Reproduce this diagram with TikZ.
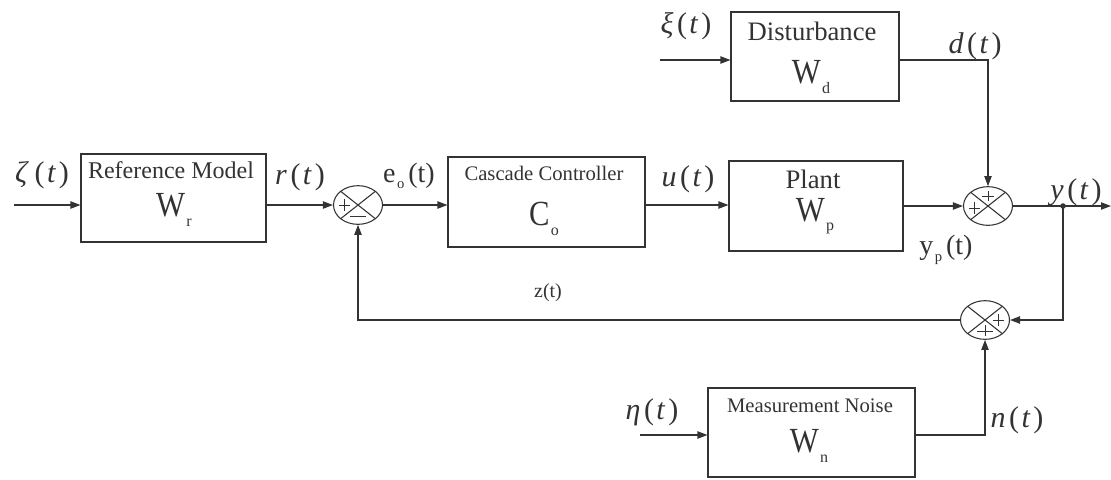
\documentclass[tikz,border=0pt]{standalone}
\usepackage{fontspec}
\setmainfont{Liberation Serif}
\usetikzlibrary{arrows.meta,shapes.geometric,calc}
\definecolor{ink}{HTML}{333333}
\newcommand{\sig}[2]{\textit{#1}\kern.12em(\kern.08em\textit{#2}\kern.1em)}
\newcommand{\subw}[2]{\scalebox{1}[1.15]{#1}\kern1pt\raisebox{-7pt}{\fontsize{12}{12}\selectfont #2}}
\begin{document}
\begin{tikzpicture}[x=0.75pt,y=-0.75pt,
  ink line/.style={draw=ink,line width=0.8pt},
  blk/.style={ink line,rectangle,inner sep=0pt},
  sumj/.style={ink line,ellipse,inner sep=0pt,minimum width=36.75pt,minimum height=29pt,
    path picture={\draw[ink,line width=0.8pt]
      (path picture bounding box.north west) -- (path picture bounding box.south east)
      (path picture bounding box.north east) -- (path picture bounding box.south west);}},
  arr/.style={ink line,-{Triangle[length=7.5pt,width=5.5pt]}},
  wire/.style={ink line},
  lbl/.style={text=ink,inner sep=0pt,font=\fontsize{22.5}{25}\selectfont},
  ttl/.style={text=ink,inner sep=0pt},
  wlbl/.style={text=ink,inner sep=0pt,font=\fontsize{23}{25}\selectfont}
]
\useasboundingbox (0,0) rectangle (1111,479);

% blocks
\node[blk,minimum width=138.75pt,minimum height=66pt] (ref) at (173.5,198) {};
\node[blk,minimum width=147.75pt,minimum height=67.5pt] (cas) at (546.5,202) {};
\node[blk,minimum width=130.5pt,minimum height=67.5pt] (plant) at (816,206) {};
\node[blk,minimum width=126pt,minimum height=66.75pt] (dist) at (815,56.5) {};
\node[blk,minimum width=155.25pt,minimum height=66.75pt] (mn) at (811.5,432.5) {};

% block texts
\node[ttl,font=\fontsize{18}{20}\selectfont] (refT) at (171,170) {Reference Model};
\node[wlbl] (refW) at (174,210) {\subw{W}{r}};
\node[ttl,font=\fontsize{15.5}{18}\selectfont] (casT) at (544,173) {Cascade Controller};
\node[wlbl] (casW) at (544,219) {\subw{C}{o}};
\node[ttl,font=\fontsize{20}{22}\selectfont] (plantT) at (813,179) {Plant};
\node[wlbl] (plantW) at (815,216) {\subw{W}{p}};
\node[ttl,font=\fontsize{20}{22}\selectfont] (distT) at (812,31) {Disturbance};
\node[wlbl] (distW) at (811,77) {\subw{W}{d}};
\node[ttl,font=\fontsize{15.5}{18}\selectfont] (mnT) at (810,406) {Measurement Noise};
\node[wlbl] (mnW) at (809,446) {\subw{W}{n}};

% summing junctions
\node[sumj] (s1) at (358,205) {};
\node[sumj] (s2) at (988,206) {};
\node[sumj] (s3) at (985,320) {};

% signs
\draw[wire,line width=0.6pt] ($(s1)+(-19,0)$) -- ++(11,0) ($(s1)+(-13.5,-6)$) -- ++(0,12);
\draw[wire,line width=0.6pt] ($(s1)+(-8,11)$) -- ++(16,0);
\draw[wire,line width=0.6pt] ($(s2)+(-6,-10)$) -- ++(12,0) ($(s2)+(0,-15)$) -- ++(0,10);
\draw[wire,line width=0.6pt] ($(s2)+(-19,2)$) -- ++(11,0) ($(s2)+(-13.5,-4)$) -- ++(0,12);
\draw[wire,line width=0.6pt] ($(s3)+(8,0)$) -- ++(11,0) ($(s3)+(13.5,-6)$) -- ++(0,12);
\draw[wire,line width=0.6pt] ($(s3)+(-8,11)$) -- ++(16,0) ($(s3)+(0,5)$) -- ++(0,11);

% coordinates
\coordinate (zin) at (14,205);
\coordinate (xin) at (660,60);
\coordinate (ein) at (640,435);
\coordinate (j) at (1063,206);
\coordinate (out) at (1111,206);

% connectors
\draw[arr] (zin) -- (ref.west |- zin);
\draw[arr] (ref.east |- s1) -- (s1.west);
\draw[arr] (s1.east) -- (cas.west |- s1);
\draw[arr] (cas.east |- s1) -- (plant.west |- s1);
\draw[arr] (plant.east |- s2) -- (s2.west);
\draw[wire] (s2.east) -- (j);
\draw[arr] (j) -- (out);
\fill[ink] (j) circle (2.8);
\draw[arr] (xin) -- (dist.west |- xin);
\draw[arr] (dist.east |- xin) -| (s2.north);
\draw[arr] (j) |- (s3.east);
\draw[arr] (s3.west) -- (s1 |- s3.west) -- (s1.south);
\draw[arr] (ein) -- (mn.west |- ein);
\draw[arr] (mn.east |- ein) -| (s3.south);

% signal labels
\node[lbl] (lz) at (42,175) {\itshape ζ\kern.25em\upshape(\kern.08em\textit{t}\kern.1em)};
\node[lbl] (lr) at (300,177) {\sig{r}{t}};
\node[lbl,font=\fontsize{21}{23}\selectfont] (le) at (409,176) {e\kern1pt\raisebox{-4pt}{\fontsize{11}{11}\selectfont o}\kern3pt(t)};
\node[lbl] (lu) at (688,179) {\sig{u}{t}};
\node[lbl] (lx) at (686,26) {\sig{ξ}{t}};
\node[lbl] (ld) at (975,46) {\sig{d}{t}};
\node[lbl,font=\fontsize{21}{23}\selectfont] (lyp) at (946,250) {y\kern1pt\raisebox{-5pt}{\fontsize{11}{11}\selectfont p}\kern3pt(t)};
\node[lbl] (ly) at (1076,192) {\sig{y}{t}};
\node[lbl,font=\fontsize{15}{17}\selectfont] (lzt) at (548,293) {z(t)};
\node[lbl] (leta) at (652,412) {\sig{η}{t}};
\node[lbl] (ln) at (1017,420) {\sig{n}{t}};
\end{tikzpicture}
\end{document}
